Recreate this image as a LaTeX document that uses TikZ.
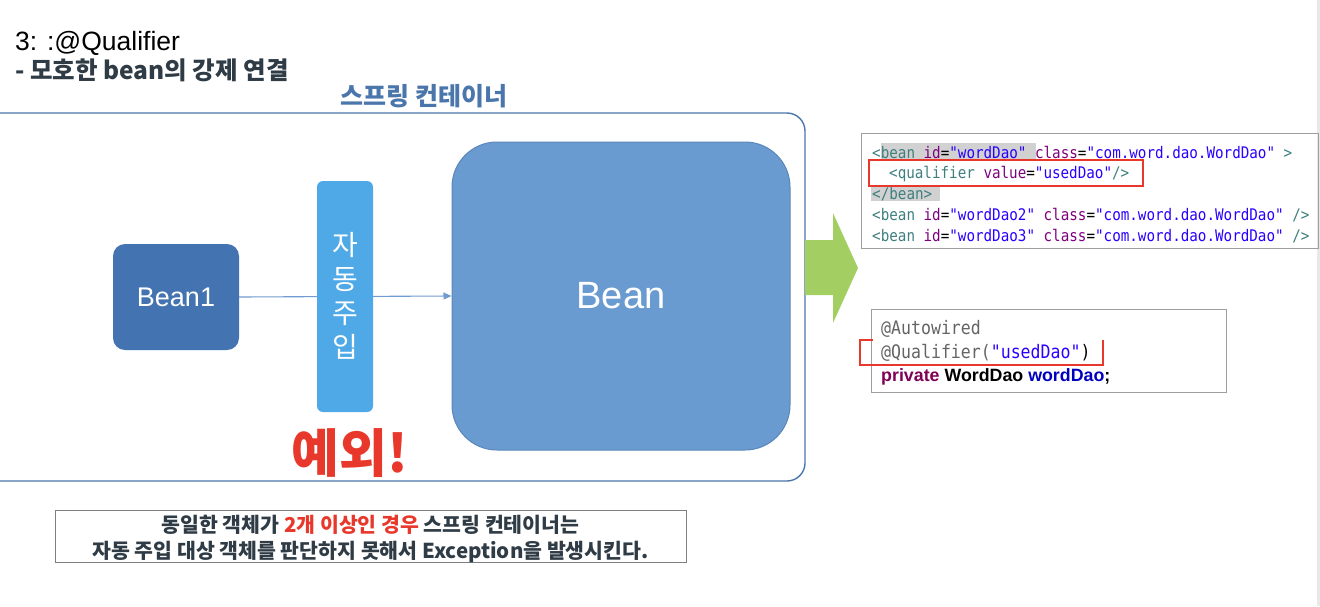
\documentclass[tikz,border=0pt]{standalone}
\usepackage{fontspec}
\setmainfont{Noto Sans CJK KR}
\newfontfamily\arialfont{Liberation Sans}
\setmonofont{DejaVu Sans Mono}[FakeStretch=0.89]
\usetikzlibrary{arrows.meta}

\definecolor{springblue}{HTML}{4A76AC}
\definecolor{beanone}{HTML}{4373B0}
\definecolor{beanbig}{HTML}{6A9BD0}
\definecolor{beanedge}{HTML}{5A86BB}
\definecolor{injectblue}{HTML}{4FA9E7}
\definecolor{connblue}{HTML}{6F9BD0}
\definecolor{alertred}{HTML}{E8382B}
\definecolor{arrowgreen}{HTML}{A3CF62}
\definecolor{slatetext}{HTML}{2F3B45}
\definecolor{xmltag}{HTML}{3F7F7F}
\definecolor{xmlattr}{HTML}{7F007F}
\definecolor{xmlstr}{HTML}{2A00FF}
\definecolor{javakw}{HTML}{7F0055}
\definecolor{javafield}{HTML}{0000C0}
\definecolor{annotgray}{HTML}{646464}

\tikzset{
  codebox/.style={draw=black!38, line width=1.2pt, inner sep=0pt, anchor=north west},
  codeline/.style={anchor=base west, inner sep=0pt, font=\ttfamily\fontsize{16}{20}\selectfont},
  javaline/.style={anchor=base west, inner sep=0pt, font=\ttfamily\fontsize{18.6}{22}\selectfont},
  injectchar/.style={inner sep=0pt, text=white, font=\fontsize{28}{34}\selectfont},
  redmark/.style={alertred, line width=2pt},
}

\begin{document}
\begin{tikzpicture}[x=1pt,y=-1pt]
\useasboundingbox (0,0) rectangle (1320,606);
\fill[black!9] (1317,0) rectangle (1320,606);

% titles
\node[anchor=base west, inner sep=0pt, font=\arialfont\fontsize{26.5}{30}\selectfont] (title) at (15,50) {3: :@Qualifier};
\node[anchor=base west, inner sep=0pt, text=slatetext, font=\bfseries\fontsize{24.5}{28}\selectfont] (subtitle) at (15,79) {- 모호한 bean의 강제 연결};
\node[inner sep=0pt, text=springblue, font=\bfseries\fontsize{25}{30}\selectfont] (containerlbl) at (424,96) {스프링 컨테이너};

% container
\draw[springblue, line width=1.4pt, rounded corners=18pt] (-20,113) rectangle (805,481);

\node[fill=beanone, rounded corners=12pt, minimum width=126pt, minimum height=106pt, inner sep=0pt,
  text=white, font=\arialfont\fontsize{27}{32}\selectfont] (bean1) at (176,297) {Bean1};
\node[fill=beanbig, draw=beanedge, line width=1pt, rounded corners=45pt, minimum width=338pt, minimum height=308pt,
  inner sep=0pt, text=white, font=\arialfont\fontsize{38}{44}\selectfont] (bean) at (621,296) {Bean};
\draw[connblue, line width=1.1pt, -{Triangle[length=8pt, width=7pt]}] (bean1.east) -- (bean.west);
\node[fill=injectblue, rounded corners=6pt, minimum width=56pt, minimum height=231pt, inner sep=0pt] (inject) at (345,296.5) {};
\node[injectchar] (inject1) at (345,245) {자};
\node[injectchar] (inject2) at (345,280) {동};
\node[injectchar] (inject3) at (345,314) {주};
\node[injectchar] (inject4) at (345,347) {입};
\node[inner sep=0pt, text=alertred, font=\bfseries\fontsize{52}{60}\selectfont] (exception) at (350,453) {예외!};

% green arrow
\fill[arrowgreen] (805,240) -- (833,240) -- (833,213) -- (858,268) -- (833,323) -- (833,295) -- (805,295) -- cycle;

% xml config
\node[codebox, minimum width=457pt, minimum height=115pt] (xmlbox) at (861,133) {};
\fill[black!18] (881,143) rectangle (1036,160);
\fill[black!18] (871,185) rectangle (940,201);
\node[codeline] (xml1) at (872,158) {\textcolor{xmltag}{<bean} \textcolor{xmlattr}{id}=\textcolor{xmlstr}{"wordDao"} \textcolor{xmlattr}{class}=\textcolor{xmlstr}{"com.word.dao.WordDao"} \textcolor{xmltag}{>}};
\node[codeline] (xml2) at (889,178) {\textcolor{xmltag}{<qualifier} \textcolor{xmlattr}{value}=\textcolor{xmlstr}{"usedDao"}\textcolor{xmltag}{/>}};
\node[codeline] (xml3) at (872,199) {\textcolor{xmltag}{</bean>}};
\node[codeline] (xml4) at (872,220) {\textcolor{xmltag}{<bean} \textcolor{xmlattr}{id}=\textcolor{xmlstr}{"wordDao2"} \textcolor{xmlattr}{class}=\textcolor{xmlstr}{"com.word.dao.WordDao"} \textcolor{xmltag}{/>}};
\node[codeline] (xml5) at (872,241) {\textcolor{xmltag}{<bean} \textcolor{xmlattr}{id}=\textcolor{xmlstr}{"wordDao3"} \textcolor{xmlattr}{class}=\textcolor{xmlstr}{"com.word.dao.WordDao"} \textcolor{xmltag}{/>}};
\draw[redmark] (869,160) rectangle (1143,186);

% java field
\node[codebox, minimum width=355pt, minimum height=83pt] (javabox) at (871,309) {};
\node[javaline, text=annotgray] (java1) at (881,334) {@Autowired};
\node[javaline] (java2) at (881,358) {\textcolor{annotgray}{@Qualifier(}\textcolor{xmlstr}{"usedDao"})};
\node[anchor=base west, inner sep=0pt, font=\arialfont\bfseries\fontsize{17.8}{22}\selectfont] (java3) at (881,381)
  {\textcolor{javakw}{private} WordDao \textcolor{javafield}{wordDao};};
\draw[redmark] (873,340) -- (860,340) -- (860,365) -- (1103,365) -- (1103,340);

% note
\node[draw=black!50, line width=1pt, minimum width=631pt, minimum height=52pt, inner sep=0pt] (note) at (370.5,536) {};
\node[inner sep=0pt, align=center, text=slatetext, font=\bfseries\fontsize{20.5}{26}\selectfont] (notetext) at (370.5,539)
  {동일한 객체가 \textcolor{alertred}{2개 이상인 경우} 스프링 컨테이너는\\자동 주입 대상 객체를 판단하지 못해서 Exception을 발생시킨다.};
\end{tikzpicture}
\end{document}
